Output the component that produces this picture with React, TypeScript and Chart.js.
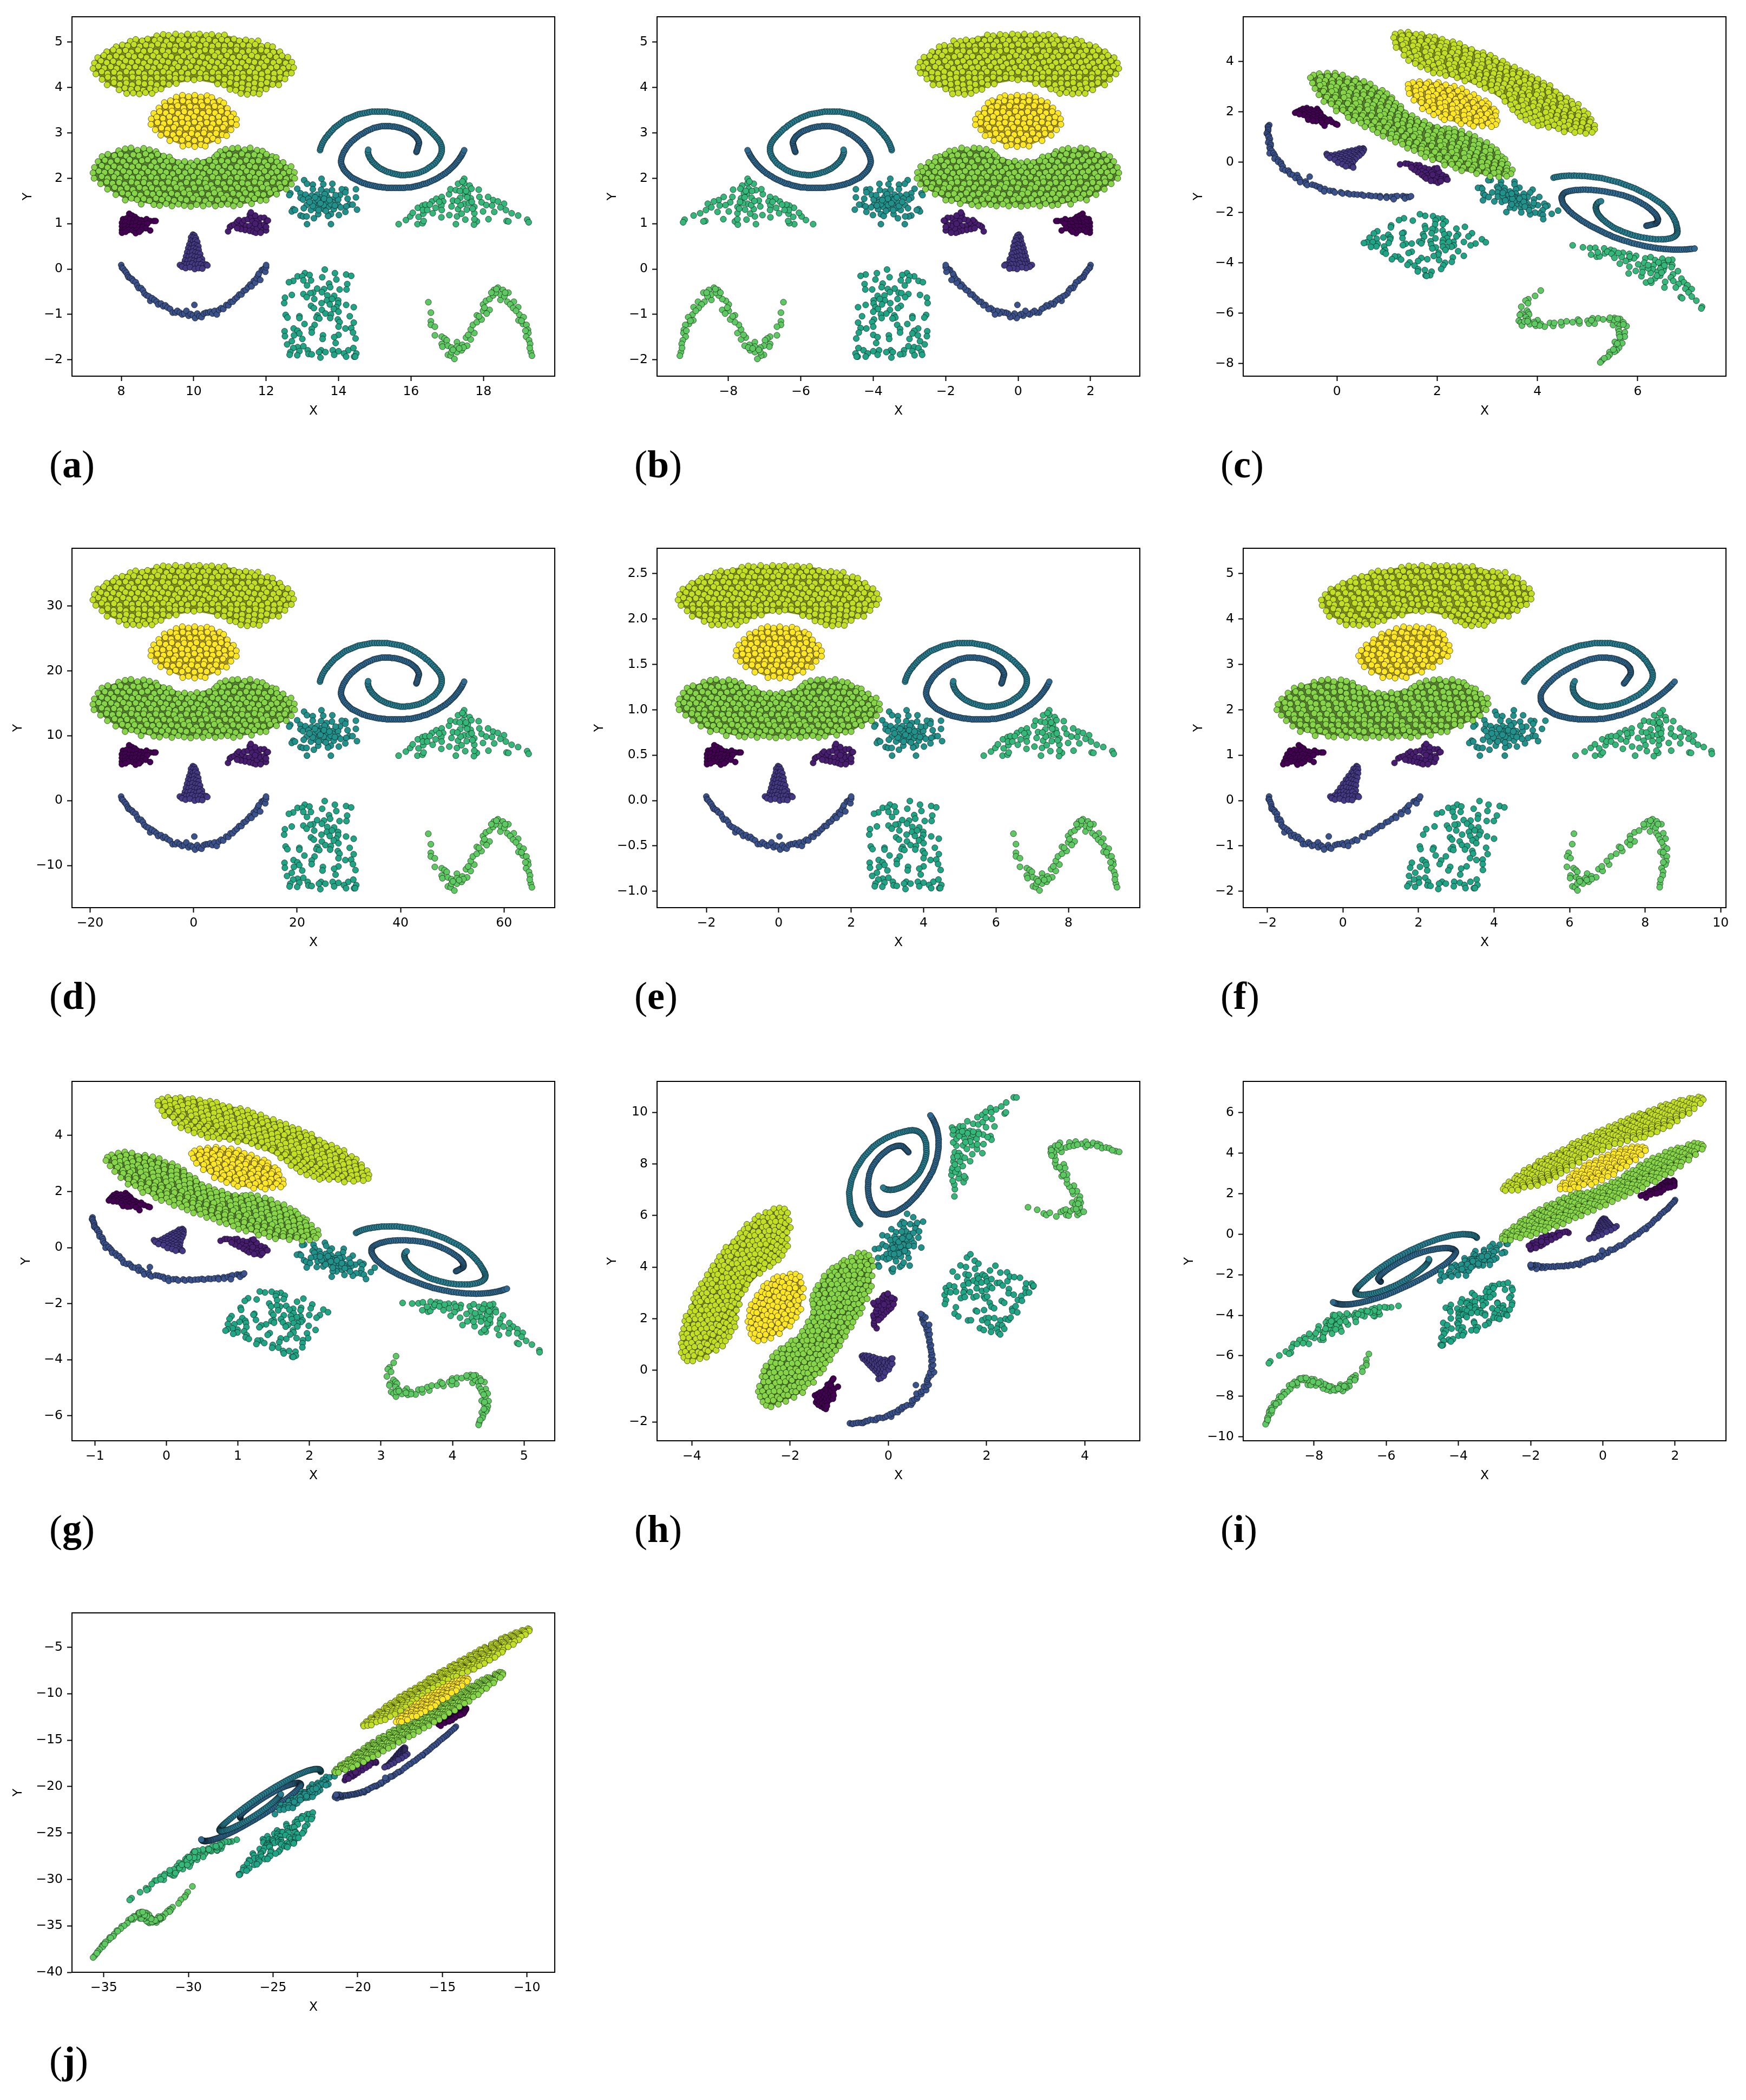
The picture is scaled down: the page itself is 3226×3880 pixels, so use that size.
import React, { useEffect, useRef } from "react";
import { Chart, registerables } from "chart.js";

Chart.register(...registerables);

// Points, as flat x,y lists.
const eyeLeft = [8.22,1.22,8.3,1.18,8.38,1.15,8.05,1.1,8.15,1.12,8.25,1.1,8.35,1.08,8.45,1.1,8.55,1.08,8.62,1.06,8.7,1.1,8.8,1.06,8.9,1.06,8.95,1.06,8.02,1.02,8.12,1.03,8.22,1,8.32,1,8.42,1.02,8.52,1,8.62,.98,8.72,1,8.02,.94,8.12,.95,8.2,.92,8.3,.93,8.4,.94,8.5,.92,8.6,.93,8.68,.9,8.02,.86,8.1,.87,8.2,.86,8.32,.85,8.42,.85,8.55,.86,8.8,.85,8.02,.8,8.12,.82,8.4,.79,8.5,.82];
const eyeRight = [10.95,.83,11,.93,11.05,.96,11.12,.98,11.2,1.04,11.25,1.08,11.3,.95,11.35,1.02,11.4,1.08,11.45,.95,11.5,1.1,11.55,1.2,11.6,1.15,11.62,1.05,11.55,.95,11.65,.9,11.42,.86,11.55,.84,11.65,.82,11.72,.8,11.75,.9,11.8,1.02,11.75,1.1,11.85,1.13,11.95,1.13,11.85,.95,11.9,.85,12,.85,11.95,.98,12.02,1.06,12,.93,11.7,1.18,11.58,1.25,11.3,.88,11.2,.9,12.05,1.07,11.85,.8,11.7,1];
const nose = [9.98,.76,10.02,.74,9.93,.7,10,.69,10.06,.68,9.92,.62,9.98,.6,10.05,.63,10.1,.6,9.88,.54,9.95,.52,10.02,.54,10.09,.52,10.13,.5,9.85,.46,9.92,.44,10,.46,10.07,.44,10.14,.42,9.82,.37,9.9,.36,9.97,.38,10.05,.36,10.12,.35,10.18,.33,9.79,.28,9.87,.27,9.95,.29,10.03,.27,10.1,.26,10.18,.25,10.23,.22,9.76,.19,9.84,.18,9.92,.2,10,.18,10.08,.17,10.16,.19,10.25,.14,9.72,.11,9.8,.1,9.88,.11,9.96,.12,10.04,.09,10.12,.1,10.2,.1,10.28,.08,10.35,.1,9.62,.09,9.68,.05,9.78,.02,9.9,.04,10.03,0,10.14,.02,10.24,.01,10.38,.08];
const smile = [8,.09,8.02,.03,8.05,.01,8.1,-.04,8.14,-.08,8.18,-.14,8.2,-.18,8.25,-.2,8.3,-.22,8.33,-.26,8.4,-.29,8.44,-.36,8.48,-.42,8.55,-.42,8.6,-.47,8.64,-.54,8.7,-.58,8.76,-.6,8.8,-.7,8.85,-.64,8.92,-.68,8.98,-.72,9.02,-.78,9.1,-.76,9.16,-.82,9.22,-.8,9.28,-.85,9.35,-.88,9.42,-.96,9.5,-.96,9.55,-.92,9.62,-.96,9.68,-1,9.74,-.98,9.8,-.92,9.86,-1.03,9.92,-.99,9.98,-1.02,10.02,-.79,10.04,-1.08,10.1,-.98,10.16,-1.04,10.22,-1.06,10.28,-.98,10.34,-.96,10.4,-.96,10.46,-.94,10.52,-.98,10.58,-.92,10.64,-1,10.7,-.9,10.76,-.86,10.82,-.88,10.9,-.79,10.96,-.8,11.02,-.72,11.08,-.72,11.14,-.66,11.2,-.62,11.26,-.56,11.32,-.56,11.38,-.48,11.44,-.46,11.5,-.4,11.56,-.34,11.6,-.38,11.66,-.26,11.7,-.3,11.74,-.2,11.78,-.14,11.8,-.1,11.84,-.24,11.88,-.02,11.93,-.01,11.96,.02,11.98,-.06,12,.04,12,.09];
const spiralDark = [16.15,2.58,16.16,2.6,16.17,2.62,16.18,2.65,16.19,2.68,16.2,2.71,16.21,2.74,16.22,2.77,16.22,2.79,16.21,2.82,16.2,2.84,16.18,2.87,16.16,2.89,16.14,2.92,16.11,2.94,16.08,2.96,16.05,2.98,16.02,3,15.98,3.02,15.94,3.04,15.9,3.05,15.85,3.07,15.8,3.08,15.75,3.1,15.7,3.11,15.65,3.12,15.6,3.13,15.54,3.14,15.48,3.14,15.42,3.15,15.37,3.15,15.31,3.15,15.26,3.15,15.2,3.15,15.14,3.14,15.08,3.13,15.03,3.12,14.97,3.11,14.92,3.09,14.86,3.07,14.8,3.05,14.75,3.03,14.7,3,14.65,2.98,14.6,2.96,14.55,2.93,14.5,2.9,14.45,2.87,14.41,2.84,14.36,2.81,14.32,2.77,14.28,2.74,14.24,2.7,14.21,2.66,14.18,2.62,14.15,2.59,14.13,2.55,14.11,2.51,14.09,2.47,14.08,2.43,14.07,2.39,14.07,2.35,14.08,2.31,14.1,2.27,14.12,2.24,14.14,2.2,14.17,2.17,14.2,2.14,14.24,2.11,14.28,2.08,14.32,2.05,14.36,2.02,14.41,2,14.46,1.98,14.51,1.96,14.56,1.94,14.61,1.92,14.66,1.9,14.72,1.89,14.77,1.87,14.83,1.86,14.88,1.85,14.94,1.84,15,1.83,15.05,1.82,15.11,1.81,15.16,1.81,15.22,1.8,15.27,1.8,15.33,1.79,15.38,1.79,15.44,1.79,15.49,1.79,15.55,1.79,15.6,1.79,15.66,1.79,15.71,1.79,15.77,1.79,15.82,1.79,15.88,1.8,15.93,1.8,15.99,1.8,16.04,1.81,16.1,1.82,16.15,1.83,16.21,1.84,16.26,1.85,16.32,1.87,16.37,1.88,16.43,1.89,16.48,1.91,16.54,1.93,16.59,1.95,16.65,1.97,16.7,1.99,16.75,2.01,16.8,2.04,16.85,2.06,16.9,2.09,16.95,2.11,16.99,2.14,17.04,2.17,17.08,2.2,17.12,2.23,17.16,2.26,17.2,2.29,17.23,2.32,17.26,2.35,17.29,2.38,17.32,2.41,17.35,2.45,17.38,2.48,17.4,2.51,17.42,2.54,17.44,2.57,17.47,2.62];
const spiralLight = [13.49,2.62,13.5,2.66,13.52,2.7,13.54,2.74,13.56,2.78,13.59,2.82,13.62,2.86,13.65,2.9,13.69,2.93,13.72,2.97,13.76,3,13.8,3.04,13.84,3.07,13.88,3.11,13.93,3.14,13.98,3.17,14.03,3.2,14.08,3.23,14.13,3.26,14.18,3.29,14.24,3.31,14.3,3.33,14.36,3.35,14.42,3.37,14.48,3.39,14.54,3.41,14.6,3.42,14.67,3.43,14.73,3.44,14.8,3.45,14.86,3.46,14.93,3.47,15,3.47,15.07,3.47,15.13,3.47,15.2,3.47,15.27,3.47,15.34,3.47,15.41,3.46,15.48,3.45,15.55,3.44,15.62,3.43,15.69,3.42,15.76,3.41,15.82,3.39,15.89,3.37,15.95,3.35,16.01,3.33,16.07,3.3,16.13,3.28,16.19,3.25,16.25,3.22,16.3,3.19,16.36,3.16,16.41,3.12,16.47,3.09,16.52,3.05,16.57,3.01,16.62,2.97,16.66,2.94,16.7,2.9,16.74,2.87,16.77,2.83,16.8,2.8,16.82,2.76,16.84,2.72,16.85,2.68,16.85,2.64,16.85,2.6,16.84,2.56,16.82,2.52,16.8,2.48,16.77,2.44,16.74,2.41,16.7,2.37,16.66,2.33,16.61,2.3,16.56,2.27,16.5,2.24,16.45,2.21,16.39,2.18,16.33,2.16,16.27,2.14,16.21,2.12,16.15,2.11,16.09,2.1,16.03,2.09,15.96,2.08,15.9,2.08,15.84,2.07,15.78,2.07,15.72,2.07,15.66,2.08,15.6,2.09,15.54,2.1,15.48,2.11,15.42,2.13,15.36,2.14,15.3,2.16,15.25,2.18,15.2,2.2,15.15,2.22,15.1,2.25,15.05,2.28,15.01,2.31,14.97,2.34,14.93,2.37,14.9,2.41,14.87,2.44,14.85,2.48,14.83,2.51,14.82,2.55,14.81,2.58,14.82,2.63];
const blob = [13.53,1.99,13.05,1.96,13.13,1.88,13.29,1.86,13.58,1.87,13.83,1.88,13.29,1.76,12.86,1.77,12.95,1.67,12.67,1.67,12.64,1.63,14.48,1.76,14.48,1.58,14.19,1.75,14.09,1.76,13.82,1.74,13.67,1.71,13.52,1.75,13.41,1.64,13.26,1.62,13.09,1.64,12.95,1.57,13.02,1.53,13.54,1.6,13.69,1.59,13.83,1.53,14.04,1.63,14.19,1.69,14.25,1.55,13.99,1.53,13.57,1.53,13.32,1.47,13.47,1.42,13.12,1.41,13.84,1.47,13.72,1.37,13.99,1.41,14.3,1.42,14.39,1.42,14.21,1.38,14.51,1.31,14.19,1.26,14.06,1.36,13.87,1.32,13.59,1.32,13.37,1.34,13.04,1.34,13.24,1.3,12.75,1.32,12.71,1.27,12.8,1.3,12.95,1.18,13.02,1.16,13.12,1.16,13.32,1.12,13.44,1.21,13.79,1.21,13.71,1.17,14.01,1.19,13.13,.99,13.79,.99,13.62,1.65,13.47,1.53,13.67,1.49,13.92,1.63,13.17,1.55,13.29,1.39,13.79,1.43,13.59,1.41,13.42,1.53,13.5,1.45,13.6,1.55,13.75,1.52,13.35,1.58,13.9,1.4,13.2,1.48,13.45,1.3,13.65,1.28];
const square = [13.62,-.01,13.9,-.09,14.21,-.12,14.35,-.15,13.55,-.18,13.94,-.23,13.07,-.09,12.87,-.16,13,-.16,13.2,-.13,13.24,-.25,13.03,-.25,12.75,-.26,12.63,-.29,13.13,-.36,13.74,-.32,14.24,-.33,13.77,-.4,13.41,-.43,13.6,-.44,14.03,-.45,14.22,-.45,13.3,-.52,13.54,-.51,13.22,-.53,13.03,-.55,13.12,-.62,12.71,-.57,13.69,-.58,13.88,-.59,12.52,-.63,13.33,-.66,13.68,-.69,13.82,-.66,13.99,-.69,12.5,-.75,13.53,-.75,13.76,-.78,13.99,-.76,13.24,-.81,13.32,-.86,13.94,-.84,13.87,-.88,14.21,-.79,14.42,-.84,13.54,-.9,14,-.94,13.64,-.98,13.79,-1,12.54,-1.01,12.59,-1.07,12.92,-1.04,12.92,-1.08,13.42,-1.02,13.39,-1.07,13.47,-1.09,13.77,-1.08,14.31,-1.04,13.98,-1.11,14.03,-1.17,14.42,-1.18,13.06,-1.21,13.34,-1.23,14,-1.27,14.19,-1.31,14.35,-1.3,12.76,-1.31,12.87,-1.36,13.26,-1.32,12.51,-1.37,13.26,-1.4,12.92,-1.42,12.77,-1.46,12.52,-1.48,13.57,-1.46,14,-1.45,14.4,-1.4,13.88,-1.5,13.56,-1.54,13,-1.54,14.47,-1.53,13.92,-1.63,12.71,-1.59,12.58,-1.66,13.03,-1.7,12.87,-1.72,12.75,-1.74,13.15,-1.79,12.92,-1.81,12.67,-1.83,13.84,-1.79,14,-1.81,14.27,-1.79,14.41,-1.74,13.52,-1.79,13.64,-1.83,13.46,-1.83,14.15,-1.86,14.49,-1.86,12.65,-1.89,12.86,-1.9,13.17,-1.87,13.26,-1.88,13.88,-1.89,14.21,-1.93,14.43,-1.93,14.46,-1.93,13.5,-1.95];
const triangle = [15.66,.99,15.86,1.08,15.98,1.16,16.05,1.24,16.18,.99,16.32,1.01,16.35,1.06,16.21,1.15,16.34,1.22,16.19,1.35,16.32,1.4,16.4,1.42,16.33,1.3,16.45,1.3,16.6,1.23,16.58,1.49,16.7,1.55,16.68,1.35,16.85,1.59,16.89,1.49,16.84,1.4,16.85,1.3,16.84,1.14,17.06,1.19,17.05,1.65,17.09,1.76,17.24,1.74,17.3,1.88,17.16,1.51,17.12,1.38,17.36,1.57,17.47,1.89,17.47,1.99,17.49,1.66,17.62,1.84,17.87,1.75,17.67,1.77,17.57,1.67,17.65,1.56,17.89,1.59,17.47,1.44,17.3,1.32,17.54,1.31,17.75,1.37,17.75,1.23,17.27,1.16,17.5,1.09,17.24,.99,17.82,1.05,17.74,.98,17.99,1.27,18.14,1.1,17.95,1.47,18.08,1.41,18.13,1.59,18.27,1.52,18.4,1.49,18.24,1.4,18.57,1.44,18.47,1.36,18.3,1.26,18.62,1.3,18.78,1.23,18.96,1.18,18.64,1.06,18.69,1.05,19.21,1.09,19.25,1.03,17.44,1.77,17.6,1.45,17.37,1.41,17.7,1.33,17.75,1.1,17.35,1.72,17.42,1.93,17.55,1.58,17.68,1.48,17.28,1.5,17.4,1.22,16.52,1.42,16.78,1.48,17.52,1.72];
const sine = [16.48,-.73,16.55,-.96,16.55,-1.15,16.55,-1.23,16.66,-1.27,16.66,-1.46,16.85,-1.49,16.93,-1.53,16.99,-1.57,16.85,-1.65,16.87,-1.71,17.02,-1.69,17.12,-1.73,17.27,-1.61,17.27,-1.71,17.42,-1.67,17.52,-1.51,17.55,-1.69,17.65,-1.55,17.02,-1.89,17.1,-1.91,17.2,-1.98,17.12,-1.83,17.27,-1.83,17.4,-1.79,17.45,-1.73,17.75,-1.41,17.65,-1.33,17.71,-1.23,17.82,-1.17,17.95,-1.11,17.82,-1.02,17.99,-.92,18.17,-.9,18.09,-.98,17.99,-.78,18.07,-.7,18.17,-.66,18.27,-.58,18.47,-.68,18.29,-.46,18.4,-.41,18.54,-.46,18.69,-.52,18.47,-.56,18.58,-.6,18.66,-.72,18.84,-.72,18.74,-.78,18.96,-.84,18.82,-.86,18.99,-1,19.11,-1.06,18.97,-1.13,19.09,-1.21,19.19,-1.23,19.23,-1.34,19.24,-1.41,19.18,-1.49,19.26,-1.57,19.29,-1.65,19.31,-1.83,19.34,-1.91,17.16,-1.78,17.33,-1.75,17.58,-1.45,17.88,-1.04,18.03,-.85,18.34,-.52,18.6,-.52,18.9,-.92,19.05,-1.14,19.16,-1.36,19.28,-1.74,18.36,-.44,18.22,-.52];
const greenBody = [7.93,2.61,8.11,2.65,8.27,2.67,8.45,2.62,8.62,2.66,8.78,2.63,8.96,2.59,10.73,2.59,10.88,2.64,11.07,2.66,11.22,2.67,11.41,2.63,11.56,2.67,11.75,2.62,11.9,2.6,7.47,2.48,7.63,2.53,7.81,2.5,7.98,2.53,8.14,2.49,8.33,2.52,8.49,2.5,8.67,2.54,8.83,2.49,9,2.53,9.17,2.49,9.33,2.47,10.58,2.47,10.64,2.52,10.82,2.5,10.98,2.53,11.16,2.49,11.33,2.54,11.5,2.5,11.67,2.52,11.83,2.49,12.01,2.53,12.17,2.48,12.28,2.46,7.36,2.37,7.55,2.4,7.71,2.36,7.89,2.4,8.05,2.37,8.23,2.41,8.39,2.36,8.57,2.39,8.73,2.41,8.91,2.36,9.07,2.4,9.25,2.37,9.41,2.39,9.58,2.35,9.75,2.37,9.92,2.34,10.09,2.38,10.26,2.35,10.43,2.4,10.6,2.36,10.77,2.39,10.94,2.37,11.11,2.41,11.28,2.36,11.45,2.4,11.62,2.37,11.79,2.39,11.96,2.36,12.13,2.4,12.3,2.36,12.47,2.35,7.26,2.24,7.46,2.28,7.62,2.24,7.8,2.27,7.96,2.23,8.14,2.28,8.3,2.25,8.48,2.27,8.64,2.23,8.82,2.27,8.98,2.24,9.16,2.28,9.32,2.25,9.5,2.23,9.66,2.27,9.84,2.24,10,2.28,10.18,2.25,10.34,2.22,10.52,2.27,10.68,2.24,10.86,2.28,11.02,2.23,11.2,2.26,11.36,2.24,11.54,2.28,11.7,2.25,11.88,2.23,12.04,2.28,12.22,2.24,12.38,2.27,12.56,2.23,12.69,2.26,7.22,2.12,7.38,2.16,7.54,2.13,7.72,2.15,7.88,2.11,8.06,2.16,8.22,2.13,8.4,2.15,8.56,2.11,8.74,2.15,8.9,2.12,9.08,2.16,9.24,2.13,9.42,2.1,9.58,2.15,9.76,2.12,9.92,2.16,10.1,2.13,10.26,2.1,10.44,2.15,10.6,2.12,10.78,2.16,10.94,2.11,11.12,2.14,11.28,2.12,11.46,2.16,11.62,2.13,11.8,2.11,11.96,2.16,12.14,2.12,12.3,2.15,12.48,2.11,12.64,2.15,12.78,2.13,7.25,2,7.46,2.04,7.62,2,7.8,2.03,7.96,1.99,8.14,2.04,8.3,2.01,8.48,2.03,8.64,1.99,8.82,2.03,8.98,2,9.16,2.04,9.32,2.01,9.5,1.98,9.66,2.03,9.84,2,10,2.04,10.18,2.01,10.34,1.98,10.52,2.03,10.68,2,10.86,2.04,11.02,1.99,11.2,2.02,11.36,2,11.54,2.04,11.7,2.01,11.88,1.99,12.04,2.04,12.22,2,12.38,2.03,12.56,1.99,12.72,2.03,12.79,2,7.43,1.88,7.6,1.92,7.76,1.89,7.94,1.91,8.1,1.87,8.28,1.92,8.44,1.89,8.62,1.91,8.78,1.87,8.96,1.91,9.12,1.88,9.3,1.92,9.46,1.89,9.64,1.86,9.8,1.91,9.98,1.88,10.14,1.92,10.32,1.89,10.48,1.86,10.66,1.91,10.82,1.88,11,1.92,11.16,1.87,11.34,1.9,11.5,1.88,11.68,1.92,11.84,1.89,12.02,1.87,12.18,1.92,12.36,1.88,12.52,1.91,12.7,1.87,7.62,1.76,7.82,1.8,7.98,1.76,8.16,1.79,8.32,1.75,8.5,1.8,8.66,1.77,8.84,1.79,9,1.75,9.18,1.79,9.34,1.76,9.52,1.8,9.68,1.77,9.86,1.74,10.02,1.79,10.2,1.76,10.36,1.8,10.54,1.77,10.7,1.74,10.88,1.79,11.04,1.76,11.22,1.8,11.38,1.75,11.56,1.78,11.72,1.76,11.9,1.8,12.06,1.77,12.24,1.75,12.4,1.8,12.56,1.76,7.85,1.64,8.03,1.68,8.19,1.65,8.37,1.67,8.53,1.63,8.71,1.68,8.87,1.65,9.05,1.67,9.21,1.63,9.39,1.67,9.55,1.64,9.73,1.68,9.89,1.65,10.07,1.62,10.23,1.67,10.41,1.64,10.57,1.68,10.75,1.65,10.91,1.62,11.09,1.67,11.25,1.64,11.43,1.68,11.59,1.63,11.77,1.66,11.93,1.64,12.11,1.68,12.29,1.65,8.11,1.52,8.28,1.56,8.44,1.53,8.62,1.55,8.78,1.51,8.96,1.56,9.12,1.53,9.3,1.55,9.46,1.51,9.64,1.55,9.8,1.52,9.98,1.56,10.14,1.53,10.32,1.5,10.48,1.55,10.66,1.52,10.82,1.56,11,1.53,11.16,1.5,11.34,1.55,11.5,1.52,11.68,1.56,11.84,1.51,12,1.52,8.55,1.43,8.9,1.42,9.06,1.4,9.24,1.44,9.4,1.39,9.58,1.43,9.74,1.4,9.92,1.38,10.08,1.42,10.26,1.39,10.42,1.43,10.6,1.39,10.76,1.42,10.94,1.43,11.1,1.39,11.28,1.42,11.6,1.44];
const hatBody = [8.98,5.14,9.16,5.17,9.31,5.15,9.5,5.18,9.66,5.14,9.83,5.18,10.01,5.16,10.16,5.18,10.35,5.15,10.5,5.17,10.69,5.14,10.85,5.16,8.25,5.02,8.4,5.06,8.58,5.03,8.73,5.07,8.92,5.04,9.07,5.06,9.25,5.02,9.41,5.07,9.59,5.04,9.74,5.05,9.93,5.03,10.08,5.07,10.26,5.04,10.42,5.06,10.6,5.02,10.77,5.06,10.93,5.04,11.11,5.07,11.26,5.03,11.44,5.05,11.6,5.02,11.78,5.03,7.86,4.9,8.03,4.94,8.18,4.92,8.35,4.95,8.51,4.91,8.68,4.94,8.84,4.92,9.01,4.96,9.17,4.92,9.34,4.94,9.5,4.91,9.67,4.95,9.84,4.93,10,4.96,10.17,4.92,10.34,4.95,10.51,4.91,10.68,4.94,10.85,4.92,11.02,4.95,11.19,4.91,11.36,4.94,11.53,4.92,11.7,4.95,11.87,4.91,12.04,4.93,12.18,4.9,7.6,4.79,7.78,4.83,7.94,4.8,8.12,4.82,8.28,4.78,8.46,4.83,8.62,4.8,8.8,4.82,8.96,4.78,9.14,4.82,9.3,4.79,9.48,4.83,9.64,4.8,9.82,4.77,9.98,4.82,10.16,4.79,10.32,4.83,10.5,4.8,10.66,4.77,10.84,4.82,11,4.79,11.18,4.83,11.34,4.78,11.52,4.81,11.68,4.79,11.86,4.83,12.02,4.8,12.2,4.78,12.38,4.79,7.35,4.66,7.52,4.71,7.68,4.67,7.86,4.7,8.02,4.66,8.2,4.71,8.36,4.68,8.54,4.7,8.7,4.66,8.88,4.7,9.04,4.67,9.22,4.71,9.38,4.68,9.56,4.65,9.72,4.7,9.9,4.67,10.06,4.71,10.24,4.68,10.4,4.65,10.58,4.7,10.74,4.67,10.92,4.71,11.08,4.66,11.26,4.69,11.42,4.67,11.6,4.71,11.76,4.68,11.94,4.66,12.1,4.71,12.28,4.67,12.44,4.7,12.6,4.67,7.26,4.54,7.44,4.59,7.6,4.55,7.78,4.58,7.94,4.54,8.12,4.59,8.28,4.56,8.46,4.58,8.62,4.54,8.8,4.58,8.96,4.55,9.14,4.59,9.3,4.56,9.48,4.53,9.64,4.58,9.82,4.55,9.98,4.59,10.16,4.56,10.32,4.53,10.5,4.58,10.66,4.55,10.84,4.59,11,4.54,11.18,4.57,11.34,4.55,11.52,4.59,11.68,4.56,11.86,4.54,12.02,4.59,12.2,4.55,12.36,4.58,12.54,4.54,12.71,4.56,7.22,4.42,7.37,4.47,7.53,4.43,7.71,4.46,7.87,4.42,8.05,4.47,8.21,4.44,8.39,4.46,8.55,4.42,8.73,4.46,8.89,4.43,9.07,4.47,9.23,4.44,9.41,4.41,9.57,4.46,9.75,4.43,9.91,4.47,10.09,4.44,10.25,4.41,10.43,4.46,10.59,4.43,10.77,4.47,10.93,4.42,11.11,4.45,11.27,4.43,11.45,4.47,11.61,4.44,11.79,4.42,11.95,4.47,12.13,4.43,12.29,4.46,12.47,4.42,12.63,4.46,12.76,4.44,7.3,4.3,7.46,4.35,7.62,4.31,7.8,4.34,7.96,4.3,8.14,4.35,8.3,4.32,8.48,4.34,8.64,4.3,8.82,4.34,8.98,4.31,9.16,4.35,9.32,4.32,9.5,4.29,9.66,4.34,9.84,4.31,10,4.35,10.18,4.32,10.34,4.29,10.52,4.34,10.68,4.31,10.86,4.35,11.02,4.3,11.2,4.33,11.36,4.31,11.54,4.35,11.7,4.32,11.88,4.3,12.04,4.35,12.22,4.31,12.38,4.34,12.56,4.3,12.7,4.32,7.47,4.18,7.63,4.23,7.79,4.19,7.97,4.22,8.13,4.18,8.31,4.23,8.47,4.2,8.65,4.22,8.81,4.18,8.99,4.22,9.15,4.19,9.33,4.23,9.49,4.2,9.67,4.21,9.83,4.19,10.01,4.17,10.17,4.2,10.35,4.22,10.51,4.19,10.69,4.23,10.85,4.18,11.03,4.22,11.19,4.2,11.37,4.23,11.53,4.19,11.71,4.22,11.87,4.18,12.05,4.23,12.21,4.2,12.39,4.22,12.52,4.19,7.61,4.06,7.8,4.11,7.96,4.07,8.14,4.1,8.3,4.06,8.48,4.11,8.64,4.08,8.82,4.1,8.98,4.06,9.16,4.1,9.32,4.07,9.52,4.09,10.66,4.08,10.84,4.06,11,4.11,11.18,4.07,11.34,4.1,11.52,4.06,11.68,4.1,11.86,4.07,12.02,4.11,12.18,4.07,12.35,4.06,7.94,3.95,8.1,3.99,8.27,3.96,8.45,3.98,8.61,3.94,8.79,3.98,8.95,3.95,9.1,3.97,11,3.96,11.16,3.94,11.33,3.99,11.5,3.95,11.67,3.98,11.84,3.94,12,3.97,8.15,3.87,8.33,3.88,8.5,3.86,8.67,3.89,8.85,3.87,11.3,3.87,11.48,3.85,11.65,3.88,11.81,3.86];
const ellipseBody = [9.52,3.79,9.69,3.83,9.86,3.8,10.03,3.83,10.2,3.79,10.37,3.82,10.5,3.78,9.19,3.67,9.36,3.71,9.52,3.68,9.7,3.71,9.86,3.67,10.04,3.71,10.2,3.68,10.38,3.71,10.54,3.67,10.72,3.71,10.83,3.66,9.04,3.55,9.22,3.59,9.38,3.56,9.56,3.6,9.72,3.55,9.9,3.59,10.06,3.56,10.24,3.6,10.4,3.55,10.58,3.59,10.74,3.56,10.93,3.54,8.9,3.43,9.06,3.47,9.23,3.44,9.4,3.48,9.57,3.43,9.74,3.47,9.91,3.44,10.08,3.48,10.25,3.43,10.42,3.47,10.59,3.44,10.76,3.48,10.93,3.43,11.1,3.42,8.83,3.31,8.98,3.35,9.15,3.32,9.33,3.36,9.49,3.31,9.67,3.35,9.83,3.32,10.01,3.36,10.17,3.31,10.35,3.35,10.51,3.32,10.69,3.36,10.85,3.31,11.03,3.35,11.18,3.3,8.82,3.19,9,3.23,9.17,3.2,9.34,3.24,9.51,3.19,9.68,3.23,9.85,3.2,10.02,3.24,10.19,3.19,10.36,3.23,10.53,3.2,10.7,3.24,10.87,3.19,11.04,3.23,11.18,3.18,8.94,3.07,9.11,3.11,9.28,3.08,9.45,3.12,9.62,3.07,9.79,3.11,9.96,3.08,10.13,3.12,10.3,3.07,10.47,3.11,10.64,3.08,10.81,3.12,11.03,3.07,9.09,2.95,9.26,2.99,9.43,2.96,9.6,3,9.77,2.95,9.94,2.99,10.11,2.96,10.28,3,10.45,2.95,10.62,2.99,10.79,2.96,10.91,2.94,9.34,2.83,9.51,2.87,9.68,2.84,9.85,2.88,10.02,2.83,10.19,2.87,10.36,2.84,10.53,2.88,10.67,2.83,9.7,2.71,9.86,2.74,10.03,2.7,10.2,2.74,10.32,2.71];

// Outlines of the three dense bodies, laid under their points.
const hatOutline = [7.22,4.45,7.3,4.65,7.6,4.82,7.9,4.93,8.3,5.04,9,5.15,10,5.18,10.9,5.15,11.6,5.03,12.1,4.91,12.4,4.79,12.6,4.68,12.75,4.45,12.7,4.3,12.5,4.18,12.35,4.07,12,3.97,11.8,3.87,11.3,3.87,11,3.96,10.65,4.08,10.05,4.17,9.5,4.09,9.1,3.96,8.85,3.88,8.15,3.87,7.95,3.96,7.62,4.07,7.48,4.19,7.3,4.31];
const greenOutline = [7.22,2.1,7.27,2.25,7.36,2.37,7.5,2.5,7.95,2.62,8.3,2.66,8.97,2.6,9.34,2.48,9.7,2.36,10.08,2.37,10.56,2.49,10.72,2.6,11.23,2.66,11.9,2.61,12.26,2.47,12.46,2.36,12.68,2.25,12.78,2.05,12.7,1.88,12.55,1.77,12.28,1.66,12,1.52,11.28,1.42,8.9,1.42,8.12,1.53,7.86,1.65,7.63,1.77,7.44,1.89,7.24,2.01];
const ellipseOutline = [9.52,3.8,10.5,3.8,10.82,3.67,10.92,3.56,11.1,3.44,11.18,3.3,11.18,3.19,11.03,3.08,10.9,2.96,10.66,2.84,10.32,2.72,9.7,2.72,9.35,2.84,9.1,2.96,8.95,3.08,8.82,3.2,8.83,3.32,8.9,3.44,9.05,3.56,9.2,3.68];

const clusterPoints = [eyeLeft, eyeRight, nose, smile, spiralDark, spiralLight, blob, square, triangle, sine, greenBody, hatBody, ellipseBody];
const clusterColors = ["#440154","#481f70","#443983","#3b528b","#31688e","#287c8e","#21918c","#20a486","#35b779","#5ec962","#86d549","#c2df23","#fde725"];
const outlines = [greenOutline, hatOutline, ellipseOutline];
const outlineColors = ["#557f2e","#7f8f14","#a89515"];

const panelNames = ["a","b","c","d","e","f","g","h","i","j"];
// Each panel's linear map of the shape, with its origin at x=10 in panel (a): a, b, c, d, shiftX, shiftY.
const panelMaps = [
  [1,0,0,1,10,0],
  [-1,0,0,1,0,0],
  [.707,.707,-.707,.707,0,0],
  [7,0,0,7,0,0],
  [1,0,0,.5,0,0],
  [1,.5,0,1,0,0],
  [.53,.306,-.5,.866,0,0],
  [.36,-.7,1.06,.75,0,0],
  [-1,0,-.8,1,0,0],
  [-1.77,.68,-1.83,2.05,-17.8,-17.4],
];
const xLimits = [[6.64,19.97],[-9.97,3.36],[-1.87,7.76],[-23.5,69.8],[-3.36,9.97],[-2.64,10.14],[-1.32,5.43],[-4.71,5.12],[-9.96,3.41],[-36.88,-8.36]];
const yLimits = [[-2.36,5.56],[-2.36,5.56],[-8.5,5.78],[-16.5,38.9],[-1.18,2.78],[-2.36,5.56],[-6.89,5.93],[-2.73,11.2],[-10.2,7.55],[-40,-1.3]];
const xTicks = [[8,10,12,14,16,18],[-8,-6,-4,-2,0,2],[0,2,4,6],[-20,0,20,40,60],[-2,0,2,4,6,8],[-2,0,2,4,6,8,10],[-1,0,1,2,3,4,5],[-4,-2,0,2,4],[-8,-6,-4,-2,0,2],[-35,-30,-25,-20,-15,-10]];
const yTicks = [[-2,-1,0,1,2,3,4,5],[-2,-1,0,1,2,3,4,5],[-8,-6,-4,-2,0,2,4],[-10,0,10,20,30],[-1,-.5,0,.5,1,1.5,2,2.5],[-2,-1,0,1,2,3,4,5],[-6,-4,-2,0,2,4],[-2,0,2,4,6,8,10],[-10,-8,-6,-4,-2,0,2,4,6],[-40,-35,-30,-25,-20,-15,-10,-5]];
const yDecimals = [0,0,0,0,1,0,0,0,0,0];
const yLabelGaps = [81,82,82,99,106,82,84,82,99,99];

const columnLefts = [133,1214,2297];
const rowTops = [31,1013,1998,2980];
const plotWidth = 892;
const plotHeight = 664;
const leftGutter = 130;
const bottomGutter = 100;
const pad = 10;
const tickFont = 23.5;

const frame = {
  id: "frame",
  afterDatasetsDraw(chart: any) {
    const { ctx, chartArea: a } = chart;
    ctx.save();
    ctx.strokeStyle = "#000";
    ctx.lineWidth = 2;
    ctx.strokeRect(a.left, a.top, a.right - a.left, a.bottom - a.top);
    ctx.restore();
  },
};

function pairs(list: number[]) {
  const out: { x: number; y: number }[] = [];
  for (let i = 0; i < list.length; i += 2) out.push({ x: list[i], y: list[i + 1] });
  return out;
}

function minusLabel(v: number, dec: number) {
  return v.toFixed(dec).replace("-", "\u2212");
}

function buildChart(canvas: HTMLCanvasElement, p: number) {
  const [a, b, c, d, sx, sy] = panelMaps[p];
  const font = { family: "DejaVu Sans", size: tickFont, lineHeight: 1 };
  const place = (list: number[]) =>
    pairs(list).map((q) => ({
      x: a * (q.x - 10) + b * q.y + sx,
      y: c * (q.x - 10) + d * q.y + sy,
    }));
  const pointSets = clusterPoints.map((list, i) => ({
    data: place(list),
    backgroundColor: clusterColors[i],
    borderColor: "rgba(0,0,0,0.6)",
    borderWidth: 1,
    pointRadius: 5.6,
    order: clusterPoints.length - i,
  }));
  const outlineSets = outlines.map((list, i) => ({
    data: place(list),
    showLine: true,
    fill: "shape",
    backgroundColor: outlineColors[i],
    borderWidth: 0,
    pointRadius: 0,
    order: 100 + i,
  }));
  return new Chart(canvas, {
    type: "scatter",
    data: { datasets: [...pointSets, ...outlineSets] },
    options: {
      animation: false,
      responsive: false,
      devicePixelRatio: 1,
      layout: { autoPadding: false, padding: { top: pad, right: pad, left: 0, bottom: 0 } },
      plugins: { legend: { display: false }, tooltip: { enabled: false } },
      scales: {
        x: {
          type: "linear",
          min: xLimits[p][0],
          max: xLimits[p][1],
          afterBuildTicks: (s: any) => { s.ticks = xTicks[p].map((value) => ({ value })); },
          afterFit: (s: any) => { s.height = bottomGutter; s.paddingLeft = 0; s.paddingRight = 0; },
          grid: { drawOnChartArea: false, tickLength: 9, tickColor: "#000", tickWidth: 2 },
          border: { color: "#000", width: 2 },
          ticks: { color: "#000", font, padding: 8, maxRotation: 0, autoSkip: false, callback: (v: any) => minusLabel(Number(v), 0) },
          title: { display: true, text: "X", color: "#000", font, padding: { top: 0, bottom: 23 } },
        },
        y: {
          type: "linear",
          min: yLimits[p][0],
          max: yLimits[p][1],
          afterBuildTicks: (s: any) => { s.ticks = yTicks[p].map((value) => ({ value })); },
          afterFit: (s: any) => { s.width = leftGutter; s.paddingTop = 0; s.paddingBottom = 0; },
          grid: { drawOnChartArea: false, tickLength: 9, tickColor: "#000", tickWidth: 2 },
          border: { color: "#000", width: 2 },
          ticks: { color: "#000", font, padding: 8, autoSkip: false, callback: (v: any) => minusLabel(Number(v), yDecimals[p]) },
          title: { display: true, text: "Y", color: "#000", font, padding: { top: leftGutter - yLabelGaps[p] - tickFont / 2, bottom: 0 } },
        },
      },
    },
    plugins: [frame],
  } as any);
}

function Panel({ index }: { index: number }) {
  const ref = useRef<HTMLCanvasElement>(null);
  useEffect(() => {
    const chart = buildChart(ref.current!, index);
    return () => chart.destroy();
  }, [index]);
  const left = columnLefts[index % 3];
  const top = rowTops[Math.floor(index / 3)];
  const w = leftGutter + plotWidth + pad;
  const h = pad + plotHeight + bottomGutter;
  return (
    <>
      <canvas
        ref={ref}
        width={w}
        height={h}
        style={{ position: "absolute", left: left - leftGutter, top: top - pad, width: w, height: h, filter: "blur(0.6px)" }}
      />
      <div
        style={{
          position: "absolute",
          left: left - 42,
          top: top + plotHeight + 187 - 60,
          fontFamily: "Liberation Serif",
          fontSize: 72,
          lineHeight: "72px",
          color: "#000",
        }}
      >
        (<b>{panelNames[index]}</b>)
      </div>
    </>
  );
}

export default function App() {
  return (
    <div style={{ position: "absolute", left: 0, top: 0, width: 3226, height: 3880, background: "#fff" }}>
      {panelNames.map((_, i) => <Panel key={i} index={i} />)}
    </div>
  );
}
